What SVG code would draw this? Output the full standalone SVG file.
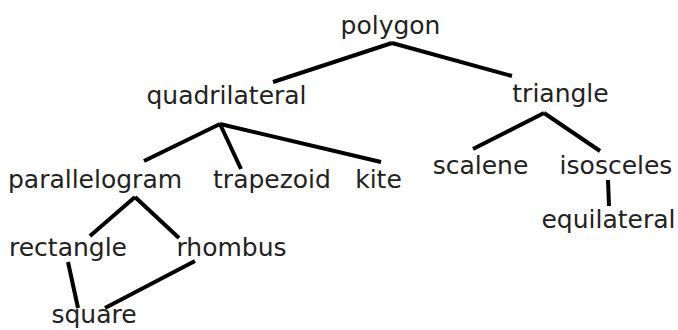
<svg xmlns="http://www.w3.org/2000/svg" width="678" height="330" viewBox="0 0 678 330">
<style>
text{font-family:"DejaVu Sans","Verdana",sans-serif;font-size:25px;fill:#222;text-anchor:middle}
.c line{stroke:#000;stroke-width:4;stroke-linecap:butt;fill:none}
</style>
<rect width="678" height="330" fill="#fff"/>
<g class="c" id="connectors">
<line x1="392" y1="43" x2="273" y2="82"/>
<line x1="392" y1="43" x2="512" y2="76"/>
<line x1="220" y1="124" x2="144" y2="161"/>
<line x1="220" y1="124" x2="241" y2="169"/>
<line x1="220" y1="124" x2="381" y2="162"/>
<line x1="544" y1="113" x2="473" y2="149"/>
<line x1="544" y1="113" x2="600" y2="151"/>
<line x1="608" y1="180" x2="609" y2="206"/>
<line x1="135" y1="197" x2="90" y2="236"/>
<line x1="135" y1="197" x2="179" y2="238"/>
<line x1="68" y1="262" x2="78" y2="308"/>
<line x1="195" y1="261" x2="105" y2="308"/>
</g>
<g id="polygon"><text x="390.5" y="34">polygon</text></g>
<g id="quadrilateral"><text x="226.5" y="104">quadrilateral</text></g>
<g id="triangle"><text x="560.5" y="102">triangle</text></g>
<g id="parallelogram"><text x="95" y="188">parallelogram</text></g>
<g id="trapezoid"><text x="272" y="188">trapezoid</text></g>
<g id="kite"><text x="378.5" y="188">kite</text></g>
<g id="scalene"><text x="480.5" y="174">scalene</text></g>
<g id="isosceles"><text x="616" y="174">isosceles</text></g>
<g id="equilateral"><text x="608.5" y="228">equilateral</text></g>
<g id="rectangle"><text x="68" y="256">rectangle</text></g>
<g id="rhombus"><text x="231.5" y="256">rhombus</text></g>
<g id="square"><text x="94" y="323">square</text></g>
</svg>
